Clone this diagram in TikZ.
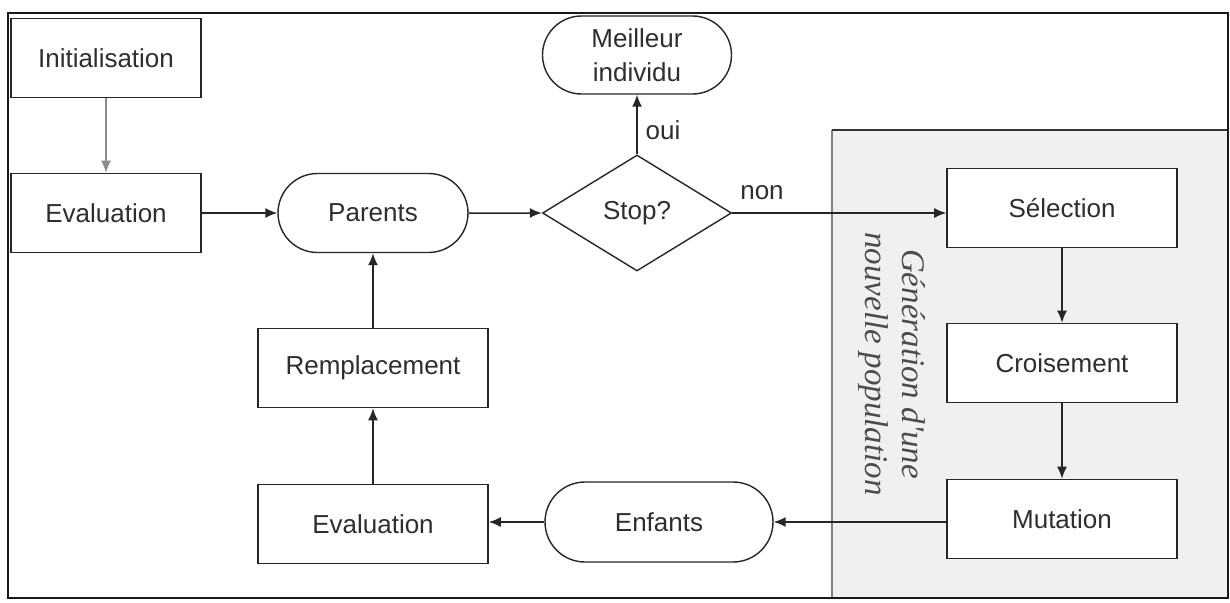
\documentclass[tikz,border=0pt]{standalone}
\usepackage{fontspec}
\setmainfont{Liberation Sans}
\newfontfamily\serifit{Liberation Serif}
\usetikzlibrary{shapes.geometric,shapes.misc,arrows.meta}
\begin{document}
\begin{tikzpicture}[x=1pt,y=-1pt,
  every node/.style={font=\fontsize{26}{34}\selectfont, text=black!82},
  box/.style={draw=black!85, line width=1.6pt, fill=white, inner sep=0pt,
    minimum width=230pt, minimum height=79pt},
  smallbox/.style={box, minimum width=190pt},
  term/.style={draw=black!85, line width=1.4pt, fill=white, rounded rectangle,
    inner sep=0pt, minimum width=190pt, minimum height=79pt, align=center},
  decision/.style={draw=black!85, line width=1.4pt, fill=white, diamond,
    inner sep=0pt, minimum width=189pt, minimum height=116pt},
  flow/.style={draw=black!85, line width=1.5pt,
    -{Latex[length=12pt,width=10pt]}},
  lbl/.style={inner sep=0pt}
]
\useasboundingbox (0,0) rectangle (1230,602);
\fill[white] (0,0) rectangle (1230,602);

% shaded area: generation of a new population
\fill[gray!12] (832,130) rectangle (1228,598);
\draw[black!50, line width=1.8pt] (832,598) -- (832,130);
\draw[black!80, line width=1.4pt] (832,130) -- (1228,130);
\node[rotate=-90, align=center, font=\serifit\itshape\fontsize{33}{37}\selectfont,
  text=black!70] (gen) at (892,364) {Génération d'une\\nouvelle population};

% outer frame
\draw[black!90, line width=2.6pt] (8,13) rectangle (1228,598);

% nodes
\node[smallbox] (init) at (106,58) {Initialisation};
\node[smallbox] (eval1) at (106,213) {Evaluation};
\node[term] (parents) at (373,213) {Parents};
\node[decision] (stop) at (637,213) {Stop?};
\node[term, minimum width=189pt, minimum height=78pt] (best) at (637,55) {Meilleur\\individu};
\node[box] (sel) at (1062,208) {Sélection};
\node[box] (cross) at (1062,363) {Croisement};
\node[box] (mut) at (1062,519) {Mutation};
\node[term, minimum width=228pt, minimum height=80pt] (kids) at (659,522) {Enfants};
\node[box] (eval2) at (373,524) {Evaluation};
\node[box] (repl) at (373,368) {Remplacement};

% connectors
\draw[flow, draw=black!45] (init) -- (eval1);
\draw[flow] (eval1) -- (parents);
\draw[flow] (parents) -- (stop);
\draw[flow] (stop) -- (best);
\draw[flow] (stop.east) -- (sel.west |- stop.east);
\draw[flow] (sel) -- (cross);
\draw[flow] (cross) -- (mut);
\draw[flow] (mut.west |- kids.east) -- (kids.east);
\draw[flow] (kids) -- (eval2.east |- kids.west);
\draw[flow] (eval2) -- (repl);
\draw[flow] (repl) -- (parents);

% branch labels
\node[lbl] (yes) at (663,130) {oui};
\node[lbl] (no) at (762,193) {non};
\end{tikzpicture}
\end{document}
